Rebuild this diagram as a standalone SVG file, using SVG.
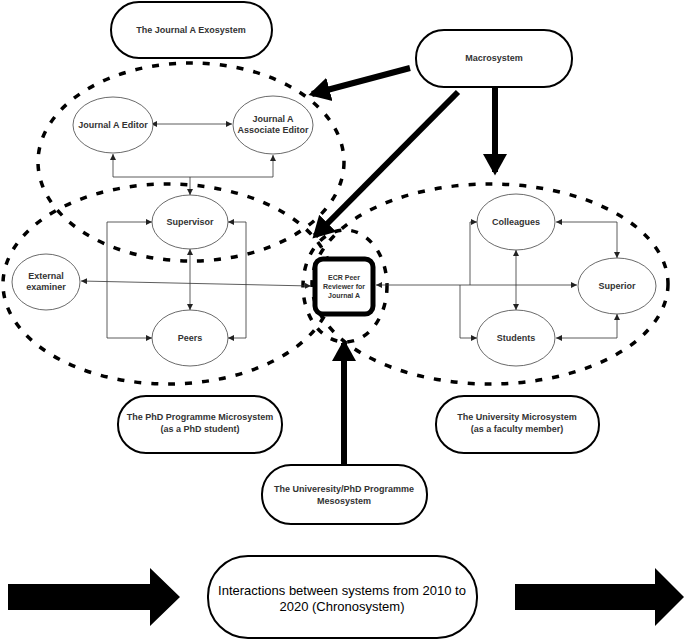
<svg xmlns="http://www.w3.org/2000/svg" width="685" height="644" viewBox="0 0 685 644">
<style>
text{font-family:"Liberation Sans",Arial,sans-serif;font-weight:bold;font-size:9px;fill:#333;text-anchor:middle}
.n{fill:#fff;stroke:#444;stroke-width:0.8}
.d{fill:none;stroke:#000;stroke-width:3.5;stroke-dasharray:7,10}
.c{fill:none;stroke:#333;stroke-width:0.8}
.b{fill:#fff;stroke:#000;stroke-width:2}
.t{stroke:#000;stroke-width:6;fill:none}
</style>
<defs>
<marker id="a" markerWidth="6" markerHeight="6" refX="6" refY="3" orient="auto-start-reverse" markerUnits="userSpaceOnUse"><path d="M0,0L6,3L0,6z" fill="#222"/></marker>
<marker id="h" markerWidth="6" markerHeight="6" refX="3" refY="3" orient="auto" markerUnits="strokeWidth"><path d="M0,1L3.6,3L0,5z" fill="#000"/></marker>
</defs>
<rect width="685" height="644" fill="#fff"/>
<g id="systems">
<ellipse class="d" cx="191" cy="162" rx="153" ry="99"/>
<ellipse class="d" cx="168" cy="284" rx="165" ry="100"/>
<ellipse class="d" cx="490" cy="284" rx="178" ry="100"/>
<ellipse class="d" cx="345" cy="286" rx="42" ry="56"/>
</g>
<g id="connectors">
<path class="c" d="M151,124H232" marker-start="url(#a)" marker-end="url(#a)"/>
<path class="c" d="M113,154V177H273V155" marker-start="url(#a)" marker-end="url(#a)"/>
<path class="c" d="M190,177V195" marker-end="url(#a)"/>
<path class="c" d="M152,222H107V338H152" marker-start="url(#a)" marker-end="url(#a)"/>
<path class="c" d="M228,222H246V338H228" marker-start="url(#a)" marker-end="url(#a)"/>
<path class="c" d="M190,249V310" marker-start="url(#a)" marker-end="url(#a)"/>
<path class="c" d="M81,281L311,286" marker-start="url(#a)" marker-end="url(#a)"/>
<path class="c" d="M376,285H577" marker-start="url(#a)" marker-end="url(#a)"/>
<path class="c" d="M470,285V222H477" marker-end="url(#a)"/>
<path class="c" d="M460,285V338H477" marker-end="url(#a)"/>
<path class="c" d="M516,250V310" marker-start="url(#a)" marker-end="url(#a)"/>
<path class="c" d="M556,222H617V258" marker-start="url(#a)" marker-end="url(#a)"/>
<path class="c" d="M556,338H617V314" marker-start="url(#a)" marker-end="url(#a)"/>
<path class="t" d="M410,68L312,94" marker-end="url(#h)"/>
<path class="t" d="M458,92L315,236" marker-end="url(#h)"/>
<path class="t" d="M495,87V172" marker-end="url(#h)"/>
<path class="t" d="M344,465V343" marker-end="url(#h)"/>
</g>
<g id="exo"><rect class="b" x="111" y="2" width="161" height="56" rx="28"/><text x="191" y="33">The Journal A Exosystem</text></g>
<g id="macro"><rect class="b" x="416" y="30" width="156" height="57" rx="28"/><text x="494" y="61">Macrosystem</text></g>
<g id="editor"><ellipse class="n" cx="113" cy="125" rx="40" ry="28"/><text x="113" y="128">Journal A Editor</text></g>
<g id="assoc"><ellipse class="n" cx="273" cy="125" rx="40" ry="29"/><text x="273" y="122">Journal A</text><text x="273" y="133">Associate Editor</text></g>
<g id="supervisor"><ellipse class="n" cx="190" cy="222" rx="38" ry="27"/><text x="190" y="225">Supervisor</text></g>
<g id="external"><ellipse class="n" cx="46" cy="282" rx="34" ry="28"/><text x="46" y="279">External</text><text x="46" y="290">examiner</text></g>
<g id="peers"><ellipse class="n" cx="190" cy="338" rx="38" ry="28"/><text x="190" y="341">Peers</text></g>
<g id="ecr"><rect x="315" y="259" width="58" height="55" rx="8" fill="#fff" stroke="#000" stroke-width="5"/><text x="344" y="280" style="font-size:7px">ECR Peer</text><text x="344" y="289" style="font-size:7px">Reviewer for</text><text x="344" y="298" style="font-size:7px">Journal A</text></g>
<g id="colleagues"><ellipse class="n" cx="516" cy="222" rx="39" ry="28"/><text x="516" y="225">Colleagues</text></g>
<g id="superior"><ellipse class="n" cx="617" cy="286" rx="39" ry="28"/><text x="617" y="289">Superior</text></g>
<g id="students"><ellipse class="n" cx="516" cy="338" rx="39" ry="28"/><text x="516" y="341">Students</text></g>
<g id="phd"><rect class="b" x="118" y="396" width="164" height="57" rx="28"/><text x="200" y="420">The PhD Programme Microsystem</text><text x="200" y="432">(as a PhD student)</text></g>
<g id="uni"><rect class="b" x="436" y="396" width="163" height="57" rx="28"/><text x="517" y="420">The University Microsystem</text><text x="517" y="432">(as a faculty member)</text></g>
<g id="meso"><rect class="b" x="262" y="465" width="165" height="59" rx="29"/><text x="344" y="492">The Univeresity/PhD Programme</text><text x="344" y="504">Mesosystem</text></g>
<g id="chrono"><rect class="b" x="208" y="556" width="269" height="82" rx="40"/><text x="342" y="595" style="font-size:13px;font-weight:normal;fill:#000">Interactions between systems from 2010 to</text><text x="342" y="611" style="font-size:13px;font-weight:normal;fill:#000">2020 (Chronosystem)</text></g>
<g id="timearrows">
<path d="M8,584H150V568L180,597L150,626V610H8z" fill="#000"/>
<path d="M515,584H655V568L684,597L655,626V610H515z" fill="#000"/>
</g>
</svg>
